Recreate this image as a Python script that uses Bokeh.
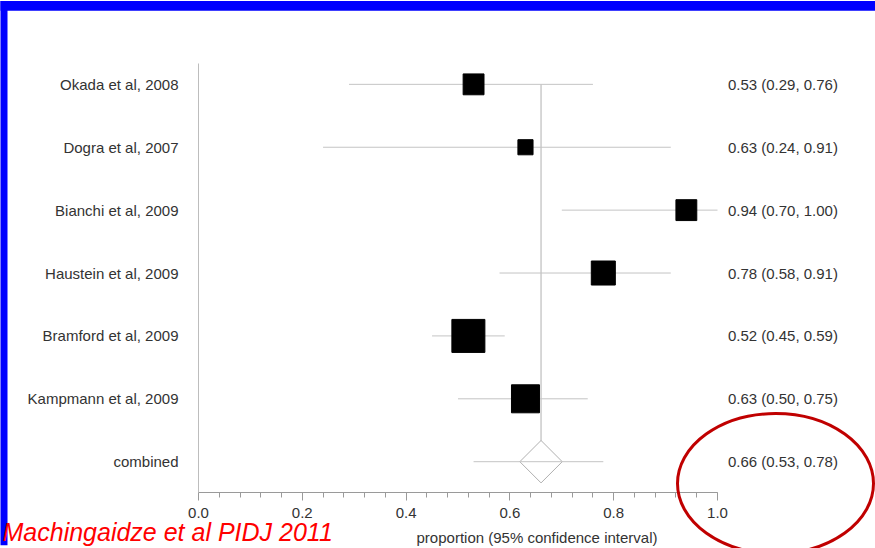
from bokeh.plotting import figure
from bokeh.models import (FixedTicker, SingleIntervalTicker, NumeralTickFormatter,
                          ColumnDataSource)
from bokeh.core.properties import value
from bokeh.embed import file_html
from bokeh.resources import INLINE

# ---------------- data ----------------
studies = ["Okada et al, 2008", "Dogra et al, 2007", "Bianchi et al, 2009",
           "Haustein et al, 2009", "Bramford et al, 2009", "Kampmann et al, 2009"]
estimate = [0.53, 0.63, 0.94, 0.78, 0.52, 0.63]
ci_low = [0.29, 0.24, 0.70, 0.58, 0.45, 0.50]
ci_high = [0.76, 0.91, 1.00, 0.91, 0.59, 0.75]
rel_weight = [40, 21, 40, 53, 100, 72]  # relative study weight (%)

combined_label = "combined"
combined_est = 0.66
combined_low = 0.53
combined_high = 0.78

x_label = "proportion (95% confidence interval)"
source_note = "Machingaidze et al PIDJ 2011"

# ---------------- layout ----------------
FONT = "Liberation Sans"
n = len(studies)
rows = list(range(n + 1, 1, -1))      # study rows top to bottom
comb_row = 1
all_rows = rows + [comb_row]
names = studies + [combined_label]
all_est = estimate + [combined_est]
all_lo = ci_low + [combined_low]
all_hi = ci_high + [combined_high]
ci_text = ["%.2f (%.2f, %.2f)" % (e, l, h) for e, l, h in zip(all_est, all_lo, all_hi)]

PX_PER_X = 519.0
PX_PER_ROW = 63.33
LEFT = 198
TOP = 63
FRAME_H = 432
W, H = 875, 548
frame_w = W - LEFT
y_top = n + 1 + (84 - TOP) / PX_PER_ROW
y_bot = y_top - FRAME_H / PX_PER_ROW
x_left_edge = -LEFT / PX_PER_X
x_right_edge = frame_w / PX_PER_X

p = figure(width=W, height=H, output_backend="svg", toolbar_location=None,
           x_range=(0, x_right_edge), y_range=(y_bot, y_top),
           min_border_left=LEFT, min_border_top=TOP, min_border_right=0,
           min_border_bottom=H - TOP - FRAME_H)
p.outline_line_color = None
p.grid.visible = False
p.background_fill_color = "white"
p.border_fill_color = "white"

# x axis
xa = p.xaxis[0]
xa.ticker = SingleIntervalTicker(interval=0.2, num_minor_ticks=5)
xa.bounds = (0, 1)
xa.formatter = NumeralTickFormatter(format="0.0")
xa.axis_line_color = "#9a9a9a"
xa.major_tick_line_color = "#9a9a9a"
xa.minor_tick_line_color = "#9a9a9a"
xa.major_tick_in = 0
xa.major_tick_out = 8
xa.minor_tick_in = 0
xa.minor_tick_out = 5
xa.major_label_standoff = 7
xa.major_label_text_font = FONT
xa.major_label_text_font_size = "15px"
xa.major_label_text_color = "#333333"
xa.axis_label = x_label
xa.axis_label_standoff = 8
xa.axis_label_text_font = FONT
xa.axis_label_text_font_size = "15px"
xa.axis_label_text_font_style = "normal"
xa.axis_label_text_color = "#333333"

# y axis (study names)
ya = p.yaxis[0]
ya.ticker = FixedTicker(ticks=all_rows)
ya.major_label_overrides = {r: nm for r, nm in zip(all_rows, names)}
ya.axis_line_color = "#bdbdbd"
ya.major_tick_line_color = None
ya.minor_tick_line_color = None
ya.major_tick_out = 0
ya.major_tick_in = 0
ya.major_label_standoff = 20
ya.major_label_text_font = FONT
ya.major_label_text_font_size = "15px"
ya.major_label_text_color = "#333333"

# vertical line at combined estimate
p.segment(x0=[combined_est], y0=[rows[0]], x1=[combined_est], y1=[comb_row],
          line_color="#b0b0b0", line_width=1)

# study CIs and weighted squares
src = ColumnDataSource(dict(y=rows, est=estimate, lo=ci_low, hi=ci_high,
                            size=[33 * (w / 100.0) ** 0.5 for w in rel_weight]))
p.segment(x0="lo", y0="y", x1="hi", y1="y", source=src, line_color="#c4c4c4", line_width=1)
p.scatter(x="est", y="y", size="size", marker="square", source=src,
          fill_color="black", line_color="black")

# combined diamond
p.scatter(x=[combined_est], y=[comb_row], marker="square", size=30, angle=0.785398,
          fill_color="white", line_color="#b0b0b0", line_width=1)
p.segment(x0=[combined_low], y0=[comb_row], x1=[combined_high], y1=[comb_row],
          line_color="#c4c4c4", line_width=1)

# estimate text
p.text(x=[1.02] * len(all_rows), y=all_rows, text=ci_text, text_baseline="middle",
       text_align="left", text_font=value(FONT), text_font_size="15px",
       text_color="#333333")

# red highlight ellipse
ell = p.ellipse(x=[(775 - LEFT) / PX_PER_X], y=[comb_row - 22 / PX_PER_ROW], width=196, height=140,
                width_units="screen", height_units="screen",
                fill_color=None, line_color="#c00000", line_width=3)
ell.level = "overlay"

# slide frame (blue bars at top and left)
y_page_top = y_top + TOP / PX_PER_ROW
y_page_bot = y_bot - (H - TOP - FRAME_H) / PX_PER_ROW
top_bar = p.quad(left=[x_left_edge], right=[x_right_edge], top=[y_page_top],
                 bottom=[y_page_top - 10 / PX_PER_ROW], fill_color="#0000ff", line_color=None)
top_bar.level = "overlay"
left_bar = p.quad(left=[x_left_edge], right=[x_left_edge + 7 / PX_PER_X], top=[y_page_top],
                  bottom=[y_page_bot], fill_color="#0000ff", line_color=None)
left_bar.level = "overlay"

# source note (drawn as an unclipped text glyph)
note = p.text(x=[x_left_edge + 2 / PX_PER_X], y=[comb_row - (535 - 464) / PX_PER_ROW],
              text=[source_note], text_font=value(FONT), text_font_size="25px",
              text_font_style="italic", text_color="#ff0000",
              text_baseline="alphabetic", text_align="left")
note.level = "overlay"

open("out.html", "w").write(file_html(p, INLINE))
